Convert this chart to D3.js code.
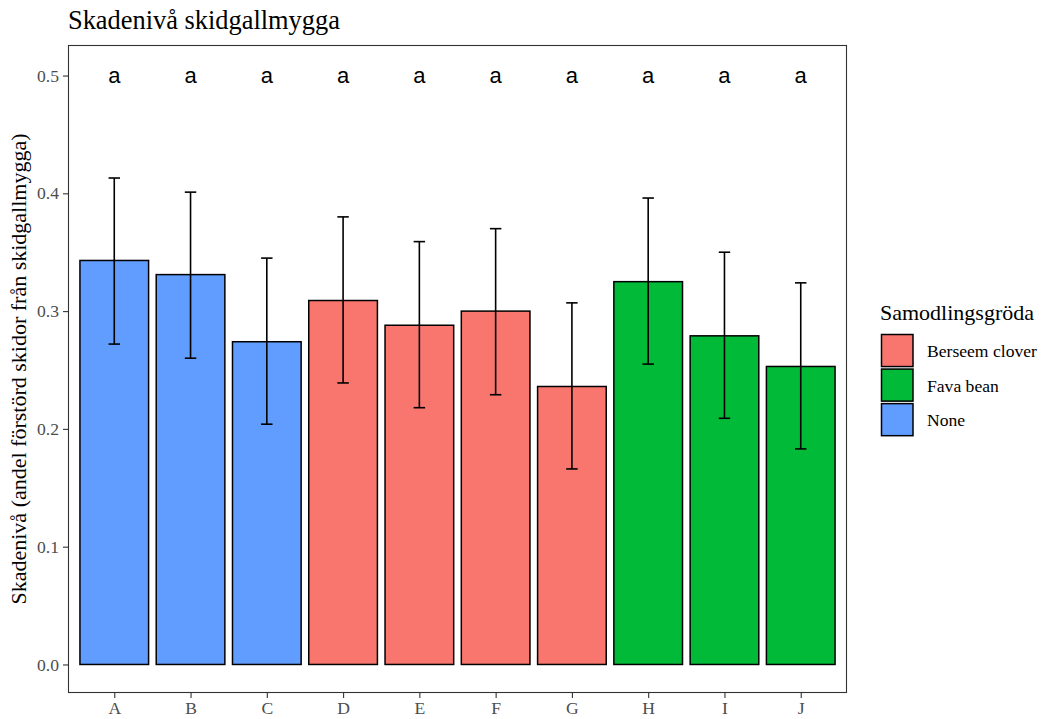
<!DOCTYPE html>
<html>
<head>
<meta charset="utf-8">
<script src="https://cdn.jsdelivr.net/npm/d3@7"></script>
<style>
  html, body { margin: 0; padding: 0; background: #fff; }
  svg { display: block; }
</style>
</head>
<body>
<svg id="chart" width="1042" height="719"></svg>
<script>
const categories = ["A","B","C","D","E","F","G","H","I","J"];
const groups = ["None","None","None","Berseem clover","Berseem clover","Berseem clover","Berseem clover","Fava bean","Fava bean","Fava bean"];
const means = [0.343,0.331,0.274,0.309,0.288,0.300,0.236,0.325,0.279,0.253];
const upper = [0.413,0.401,0.345,0.380,0.359,0.370,0.307,0.396,0.350,0.324];
const lower = [0.272,0.260,0.204,0.239,0.218,0.229,0.166,0.255,0.209,0.183];
const letters = ["a","a","a","a","a","a","a","a","a","a"];
const letterY = 0.5;
const legendKeys = ["Berseem clover","Fava bean","None"];
const legendColors = ["#F8766D","#00BA38","#619CFF"];
const yTicks = [0.0,0.1,0.2,0.3,0.4,0.5];

const serif = "'Liberation Serif','Times New Roman',serif";
const sans = "'Liberation Sans',Arial,sans-serif";

const svg = d3.select("#chart");
const P = {left: 68.5, right: 846.5, top: 45.5, bottom: 692.5};

const x = d3.scalePoint().domain(categories).range([P.left, P.right]).padding(0.6);
const step = x.step();
const y = d3.scaleLinear().domain([-0.0238, 0.5255]).range([P.bottom, P.top]);
const color = d3.scaleOrdinal().domain(legendKeys).range(legendColors);

const data = categories.map((c, i) => ({c, g: groups[i], m: means[i], lo: lower[i], hi: upper[i], lab: letters[i]}));

// Title
svg.append("text").attr("x", 68).attr("y", 29)
  .attr("font-family", serif).attr("font-size", 26.4).attr("fill", "#000")
  .text("Skadenivå skidgallmygga");

// Bars
const bw = step * 0.9;
svg.append("g").selectAll("rect").data(data).join("rect")
  .attr("x", d => x(d.c) - bw/2)
  .attr("width", bw)
  .attr("y", d => y(d.m))
  .attr("height", d => y(0) - y(d.m))
  .attr("fill", d => color(d.g))
  .attr("stroke", "#000").attr("stroke-width", 1.5);

// Error bars
const cw = step * 0.15;
const eb = svg.append("g").attr("stroke", "#000").attr("stroke-width", 1.6).attr("fill", "none");
data.forEach(d => {
  const cx = x(d.c);
  eb.append("line").attr("x1", cx).attr("x2", cx).attr("y1", y(d.lo)).attr("y2", y(d.hi));
  eb.append("line").attr("x1", cx - cw/2).attr("x2", cx + cw/2).attr("y1", y(d.hi)).attr("y2", y(d.hi));
  eb.append("line").attr("x1", cx - cw/2).attr("x2", cx + cw/2).attr("y1", y(d.lo)).attr("y2", y(d.lo));
});

// Letters
svg.append("g").selectAll("text").data(data).join("text")
  .attr("x", d => x(d.c)).attr("y", y(letterY)).attr("dy", "0.35em")
  .attr("text-anchor", "middle")
  .attr("font-family", sans).attr("font-size", 22).attr("fill", "#000")
  .text(d => d.lab);

// Panel border
svg.append("rect").attr("x", P.left).attr("y", P.top)
  .attr("width", P.right - P.left).attr("height", P.bottom - P.top)
  .attr("fill", "none").attr("stroke", "#333").attr("stroke-width", 1.1);

// Axes
const yAxis = d3.axisLeft(y).tickValues(yTicks).tickFormat(d3.format(".1f")).tickSize(5.5).tickPadding(4);
const gy = svg.append("g").attr("transform", `translate(${P.left},0)`).call(yAxis);
gy.select(".domain").remove();
gy.selectAll(".tick line").attr("stroke", "#333").attr("stroke-width", 1.1);
gy.selectAll(".tick text").attr("font-family", serif).attr("font-size", 17.6).attr("fill", "#4d4d4d");

const xAxis = d3.axisBottom(x).tickSize(5.5).tickPadding(4);
const gx = svg.append("g").attr("transform", `translate(0,${P.bottom})`).call(xAxis);
gx.select(".domain").remove();
gx.selectAll(".tick line").attr("stroke", "#333").attr("stroke-width", 1.1);
gx.selectAll(".tick text").attr("font-family", serif).attr("font-size", 17.6).attr("fill", "#4d4d4d");

// Y axis title
svg.append("text")
  .attr("transform", `translate(26,${(P.top + P.bottom)/2}) rotate(-90)`)
  .attr("text-anchor", "middle")
  .attr("font-family", serif).attr("font-size", 22).attr("fill", "#000")
  .text("Skadenivå (andel förstörd skidor från skidgallmygga)");

// Legend
const lg = svg.append("g");
lg.append("text").attr("x", 880).attr("y", 320)
  .attr("font-family", serif).attr("font-size", 22).attr("fill", "#000")
  .text("Samodlingsgröda");
const keyH = 34.56;
legendKeys.forEach((k, i) => {
  const ky = 334 + i * keyH;
  lg.append("rect").attr("x", 881.5).attr("y", ky + 0.5).attr("width", 31.5).attr("height", keyH - 2.5)
    .attr("fill", color(k)).attr("stroke", "#000").attr("stroke-width", 1.5);
  lg.append("text").attr("x", 927).attr("y", ky + keyH/2).attr("dy", "0.33em")
    .attr("font-family", serif).attr("font-size", 17.6).attr("fill", "#000")
    .text(k);
});
</script>
</body>
</html>
